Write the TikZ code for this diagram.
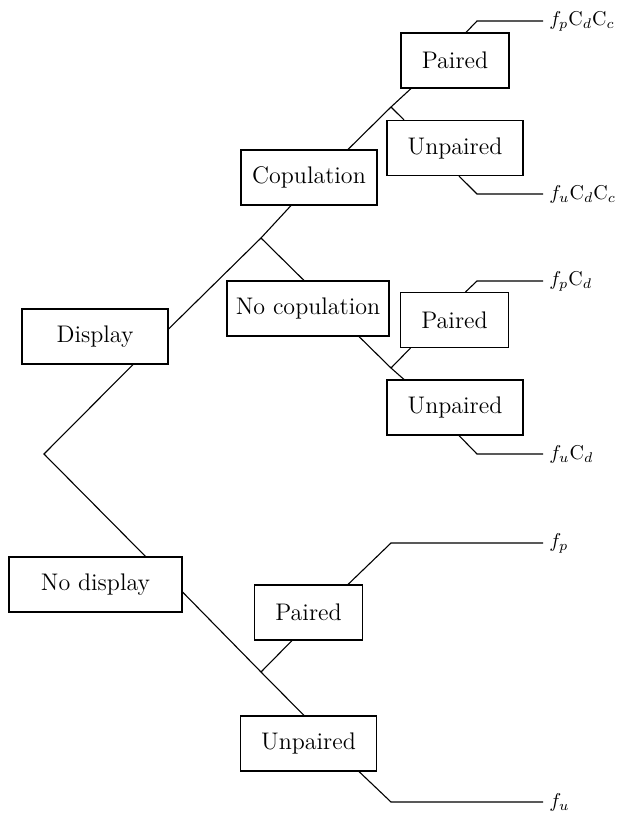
\documentclass[tikz,border=0pt]{standalone}
\usepackage{tikz}
\usetikzlibrary{positioning}
\begin{document}
\begin{tikzpicture}[
        x=0.5pt, y=-0.5pt,
        box/.style={rectangle, draw, line width=0.55pt, minimum height=27.5pt, inner sep=0pt, font=\fontsize{12}{14}\selectfont},
        outcome/.style={anchor=west, inner sep=3pt, font=\fontsize{10}{12}\selectfont},
        branch/.style={line width=0.55pt}
    ]
        \useasboundingbox (0,0) rectangle (616,814);

        \node[box, minimum width=73pt] (display) at (95,336.5) {Display};
        \node[box, minimum width=86.5pt] (nodisplay) at (95.5,584.5) {No display};
        \node[box, minimum width=68pt] (copulation) at (309,177.5) {Copulation};
        \node[box, minimum width=81pt] (nocopulation) at (308,308.5) {No copulation};
        \node[box, minimum width=54pt] (pairedcc) at (455,60.5) {Paired};
        \node[box, minimum width=68pt] (unpairedcc) at (455,148) {Unpaired};
        \node[box, minimum width=54pt] (pairedcd) at (454.5,320) {Paired};
        \node[box, minimum width=68pt] (unpairedcd) at (455,407.5) {Unpaired};
        \node[box, minimum width=54pt] (pairednd) at (308.5,612.5) {Paired};
        \node[box, minimum width=68pt] (unpairednd) at (308.5,743.5) {Unpaired};

        \node[outcome] (fpcdcc) at (543,21) {$f_p\mathrm{C}_d\mathrm{C}_c$};
        \node[outcome] (fucdcc) at (543,194) {$f_u\mathrm{C}_d\mathrm{C}_c$};
        \node[outcome] (fpcd) at (543,281) {$f_p\mathrm{C}_d$};
        \node[outcome] (fucd) at (543,454) {$f_u\mathrm{C}_d$};
        \node[outcome] (fp) at (543,543) {$f_p$};
        \node[outcome] (fu) at (543,802) {$f_u$};

        \coordinate (root) at (44,454);
        \coordinate (splitdisplay) at (261,238);
        \coordinate (splitcc) at (391,107);
        \coordinate (splitcd) at (391,368);
        \coordinate (splitnd) at (261,672);

        \draw[branch] ([xshift=19pt]display.south) -- (root) -- ([xshift=25pt]nodisplay.north);

        \draw[branch] ([yshift=3.75pt]display.east) -- (splitdisplay) -- ([xshift=-9pt]copulation.south);
        \draw[branch] (splitdisplay) -- ([xshift=-2pt]nocopulation.north);

        \draw[branch] ([xshift=19.5pt]copulation.north) -- (splitcc) -- ([xshift=-22pt]pairedcc.south);
        \draw[branch] (splitcc) -- ([xshift=-25.5pt]unpairedcc.north);
        \draw[branch] ([xshift=5.5pt]pairedcc.north) -- (477,21) -- (fpcdcc.west);
        \draw[branch] ([xshift=2pt]unpairedcc.south) -- (477,194) -- (fucdcc.west);

        \draw[branch] ([xshift=25.5pt]nocopulation.south) -- (splitcd) -- ([xshift=-25.5pt]unpairedcd.north);
        \draw[branch] (splitcd) -- ([xshift=-22pt]pairedcd.south);
        \draw[branch] ([xshift=5.5pt]pairedcd.north) -- (477,281) -- (fpcd.west);
        \draw[branch] ([xshift=2pt]unpairedcd.south) -- (477,454) -- (fucd.west);

        \draw[branch] ([yshift=-3.75pt]nodisplay.east) -- (splitnd) -- ([xshift=-2.25pt]unpairednd.north);
        \draw[branch] (splitnd) -- ([xshift=-8.25pt]pairednd.south);
        \draw[branch] ([xshift=19.75pt]pairednd.north) -- (391,543) -- (fp.west);
        \draw[branch] ([xshift=25.25pt]unpairednd.south) -- (391,802) -- (fu.west);
    \end{tikzpicture}
\end{document}
